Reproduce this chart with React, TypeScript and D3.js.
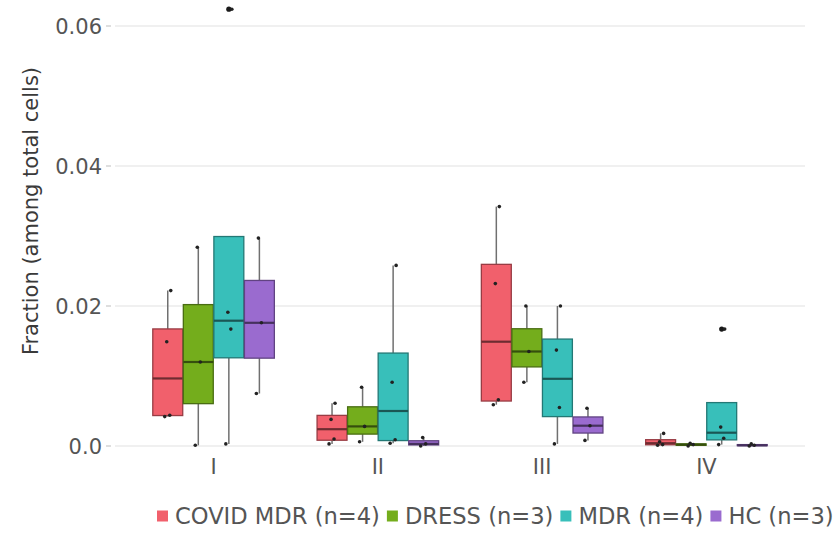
import React, { useEffect, useRef } from "react";
import * as d3 from "d3";

// Clusters on the x axis
const categories = ["I", "II", "III", "IV"];

// Sample groups (series) and their fills
const seriesNames = ["COVID MDR (n=4)", "DRESS (n=3)", "MDR (n=4)", "HC (n=3)"];
const seriesColors = ["#f1606c", "#74ad1c", "#38bfba", "#9a6bcf"];

// Per-sample fractions among total cells, one row per cluster (I..IV)
const covidMdr = [
  [0.0042, 0.0044, 0.0149, 0.0222],
  [0.0003, 0.001, 0.0038, 0.0061],
  [0.0059, 0.0066, 0.0232, 0.0342],
  [0.0001, 0.0002, 0.0006, 0.0018],
];
const dress = [
  [0.0001, 0.012, 0.0284],
  [0.0006, 0.0028, 0.0084],
  [0.0091, 0.0135, 0.02],
  [0.0, 0.0002, 0.0004],
];
const mdr = [
  [0.0003, 0.0167, 0.0191, 0.0624],
  [0.0004, 0.0009, 0.0091, 0.0258],
  [0.0003, 0.0055, 0.0137, 0.02],
  [0.0002, 0.0011, 0.0027, 0.0167],
];
const hc = [
  [0.0075, 0.0176, 0.0297],
  [0.0, 0.0003, 0.0012],
  [0.0008, 0.0029, 0.0054],
  [0.0, 0.0001, 0.0003],
];

const yTicks = [0, 0.02, 0.04, 0.06];
const yTickLabels = ["0.0", "0.02", "0.04", "0.06"];
const yTitle = "Fraction (among total cells)";

const W = 834;
const H = 534;
const FONT = "'DejaVu Sans', sans-serif";

function boxStats(values: number[]) {
  const v = [...values].sort(d3.ascending);
  const q1 = d3.quantile(v, 0.25)!;
  const med = d3.quantile(v, 0.5)!;
  const q3 = d3.quantile(v, 0.75)!;
  const iqr = q3 - q1;
  const lo = q1 - 1.5 * iqr;
  const hi = q3 + 1.5 * iqr;
  const inside = v.filter((d) => d >= lo && d <= hi);
  return {
    q1,
    med,
    q3,
    wLo: Math.min(d3.min(inside)!, q1),
    wHi: Math.max(d3.max(inside)!, q3),
    outliers: v.filter((d) => d < lo || d > hi),
  };
}

export default function App() {
  const ref = useRef<SVGSVGElement>(null);

  useEffect(() => {
    const svg = d3.select(ref.current!);
    svg.selectAll("*").remove();

    const seriesData = [covidMdr, dress, mdr, hc];

    const x = d3.scalePoint<string>().domain(categories).range([115, 805]).padding(0.6);
    const step = x.step();
    const dodge = d3
      .scaleBand<string>()
      .domain(seriesNames)
      .range([-0.37 * step, 0.37 * step])
      .paddingInner(0.02);
    const bw = dodge.bandwidth();
    const y = d3.scaleLinear().domain([0, 0.06]).range([446, 26]);

    // grid lines and y axis
    const grid = svg.append("g");
    yTicks.forEach((t, i) => {
      grid
        .append("line")
        .attr("x1", 115)
        .attr("x2", 805)
        .attr("y1", y(t))
        .attr("y2", y(t))
        .attr("stroke", "#ebebeb")
        .attr("stroke-width", 1.6);
      grid
        .append("line")
        .attr("x1", 106)
        .attr("x2", 111)
        .attr("y1", y(t))
        .attr("y2", y(t))
        .attr("stroke", "#c8c8c8")
        .attr("stroke-width", 1.2);
      grid
        .append("text")
        .attr("x", 102)
        .attr("y", y(t))
        .attr("dy", "0.36em")
        .attr("text-anchor", "end")
        .attr("font-family", FONT)
        .attr("font-size", 21)
        .attr("fill", "#555")
        .text(yTickLabels[i]);
    });

    svg
      .append("text")
      .attr("transform", "translate(30,211) rotate(-90)")
      .attr("text-anchor", "middle")
      .attr("dy", "0.36em")
      .attr("font-family", FONT)
      .attr("font-size", 21)
      .attr("fill", "#3a3a3a")
      .text(yTitle);

    // x labels
    categories.forEach((c) => {
      svg
        .append("text")
        .attr("x", x(c)!)
        .attr("y", 466)
        .attr("dy", "0.36em")
        .attr("text-anchor", "middle")
        .attr("font-family", FONT)
        .attr("font-size", 21)
        .attr("fill", "#555")
        .text(c);
    });

    // boxes
    const jitter = [-3, 2, -1, 3];
    const plot = svg.append("g");
    seriesNames.forEach((s, si) => {
      const color = seriesColors[si];
      const dark = d3.color(color)!.darker(1.3).formatHex();
      const mid = d3.color(color)!.darker(2.2).formatHex();
      categories.forEach((c, ci) => {
        const vals = seriesData[si][ci];
        const st = boxStats(vals);
        const left = x(c)! + dodge(s)!;
        const cx = left + bw / 2;
        const g = plot.append("g");
        g.append("line")
          .attr("x1", cx)
          .attr("x2", cx)
          .attr("y1", y(st.wHi))
          .attr("y2", y(st.q3))
          .attr("stroke", "#707070")
          .attr("stroke-width", 1.5);
        g.append("line")
          .attr("x1", cx)
          .attr("x2", cx)
          .attr("y1", y(st.q1))
          .attr("y2", y(st.wLo))
          .attr("stroke", "#707070")
          .attr("stroke-width", 1.5);
        g.append("rect")
          .attr("x", left)
          .attr("width", bw)
          .attr("y", y(st.q3))
          .attr("height", Math.max(1, y(st.q1) - y(st.q3)))
          .attr("fill", color)
          .attr("stroke", dark)
          .attr("stroke-width", 1.3);
        g.append("line")
          .attr("x1", left)
          .attr("x2", left + bw)
          .attr("y1", y(st.med))
          .attr("y2", y(st.med))
          .attr("stroke", mid)
          .attr("stroke-width", 2.2);
        st.outliers.forEach((o) => {
          g.append("circle")
            .attr("cx", cx)
            .attr("cy", y(o))
            .attr("r", 2.6)
            .attr("fill", "#1a1a1a");
        });
        vals.forEach((v, vi) => {
          g.append("circle")
            .attr("cx", cx + jitter[vi % jitter.length])
            .attr("cy", y(v))
            .attr("r", 1.8)
            .attr("fill", "#222");
        });
      });
    });

    // legend
    const legend = svg.append("g");
    let lx = 157;
    const ly = 516;
    seriesNames.forEach((s, si) => {
      legend
        .append("rect")
        .attr("x", lx)
        .attr("y", ly - 5.5)
        .attr("width", 11)
        .attr("height", 11)
        .attr("fill", seriesColors[si]);
      const t = legend
        .append("text")
        .attr("x", lx + 18)
        .attr("y", ly)
        .attr("dy", "0.36em")
        .attr("font-family", FONT)
        .attr("font-size", 22.6)
        .attr("fill", "#555")
        .text(s);
      const len = (t.node() as SVGTextElement).getComputedTextLength();
      lx = lx + 18 + len + 7;
    });
  }, []);

  return (
    <svg
      ref={ref}
      width={W}
      height={H}
      viewBox={`0 0 ${W} ${H}`}
      style={{ position: "absolute", left: 0, top: 0, background: "#fff" }}
    />
  );
}
